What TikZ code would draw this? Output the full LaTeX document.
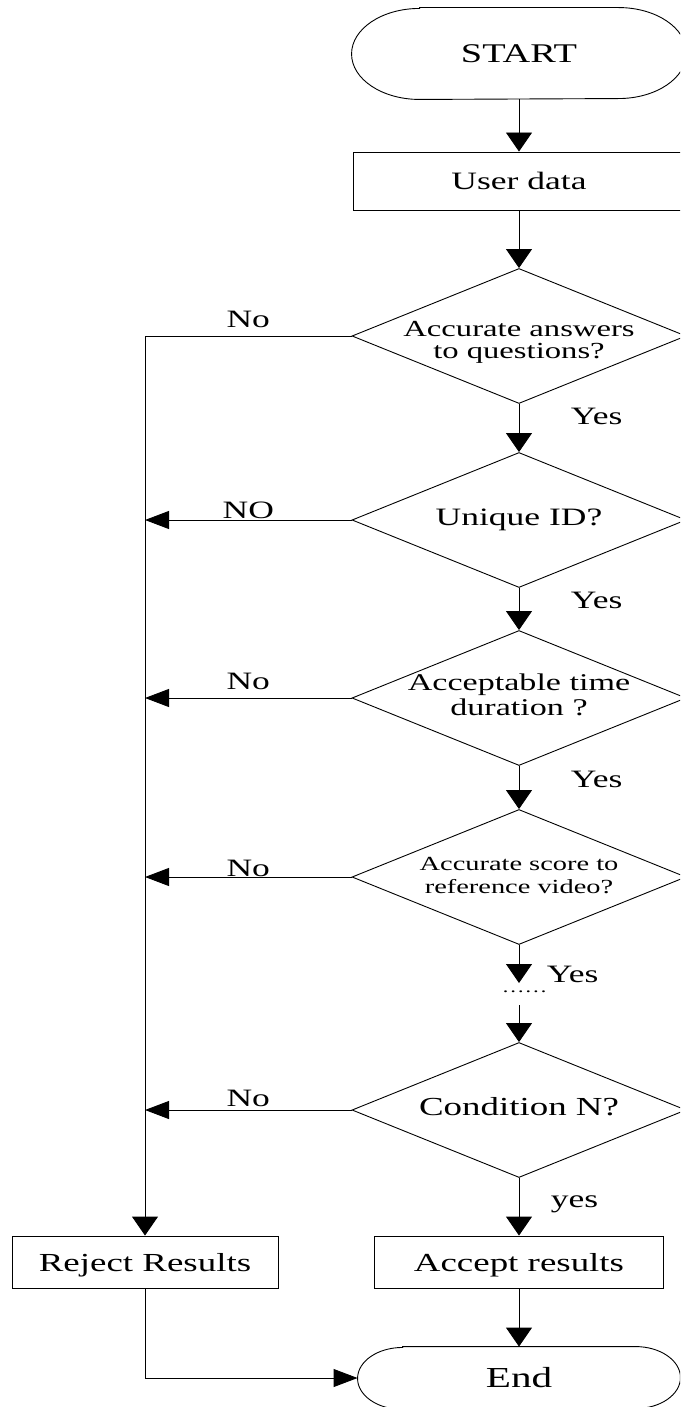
\documentclass[tikz,border=0pt]{standalone}
\usepackage{graphicx}
\usepackage{fontspec}
\setmainfont{Liberation Serif}
\usetikzlibrary{shapes.geometric,arrows.meta}

\newcommand{\wide}[1]{\scalebox{1.42}[1]{#1}}
\newcommand{\qtext}[2][0pt]{\makebox[0pt]{\wide{\begin{tabular}{@{}c@{}}#2\end{tabular}}\rule{0pt}{#1}}}

\begin{document}
\begin{tikzpicture}[x=1pt,y=-1pt,line width=0.9pt,
  box/.style={draw,rectangle,inner sep=0pt,text depth=0pt,minimum height=52pt},
  decision/.style={draw,diamond,aspect=2.5,inner sep=0pt,minimum width=334pt,minimum height=135pt},
  terminal/.style={inner sep=0pt},
  down/.style={-{Triangle[width=26pt,length=19pt]}},
  side/.style={-{Triangle[width=18pt,length=24pt]}},
  nolbl/.style={midway,anchor=base,font=\fontsize{25}{25}\selectfont},
  yeslbl/.style={midway,anchor=base west,xshift=48pt,font=\fontsize{25}{25}\selectfont}]
   \newcommand{\stadium}[3]{
        \draw ([xshift=#2]#1.north west) -- ([xshift=-#2]#1.north east)
          arc[start angle=90,end angle=-90,x radius=#2,y radius=#3]
          -- ([xshift=#2]#1.south west)
          arc[start angle=270,end angle=90,x radius=#2,y radius=#3] -- cycle;
    }
\useasboundingbox (0,0) rectangle (680,1407);
\clip (0,0) rectangle (680,1407);

\node[terminal,minimum width=334pt,minimum height=91pt,font=\fontsize{27}{27}\selectfont] (start) at (519,53.5) {\wide{START}};
\stadium{start}{68pt}{45.5pt}
\node[box,minimum width=332pt,minimum height=58pt,font=\fontsize{25}{25}\selectfont] (data) at (519,181) {\wide{User data}};

\node[decision,font=\fontsize{23}{22}\selectfont] (q1) at (519,336) {\qtext[42pt]{Accurate answers\\to questions?}};
\node[decision,font=\fontsize{25}{25}\selectfont] (q2) at (519,520) {\qtext{Unique ID?}};
\node[decision,font=\fontsize{24}{25}\selectfont] (q3) at (519,698) {\qtext{Acceptable time\\duration ?}};
\node[decision,font=\fontsize{20}{23}\selectfont] (q4) at (519,877) {\qtext{Accurate score to\\reference video?}};
\node[decision,font=\fontsize{26}{26}\selectfont] (qn) at (519,1110) {\qtext{Condition N?}};

\coordinate (gapA) at (519,983);
\coordinate (gapB) at (519,1005);
\node[anchor=base,font=\fontsize{16}{16}\selectfont] (dots) at (524.5,992) {\wide{……}};

\node[box,minimum width=266pt,font=\fontsize{26}{26}\selectfont] (reject) at (145,1262) {\wide{Reject Results}};
\node[box,minimum width=289pt,font=\fontsize{26}{26}\selectfont] (accept) at (519,1262) {\wide{Accept results}};
\node[terminal,minimum width=322pt,minimum height=62pt,font=\fontsize{29}{29}\selectfont] (end) at (519,1378) {\wide{End}};
\stadium{end}{45pt}{31pt}

\draw[down] (start) -- (data);
\draw[down] (data) -- (q1);
\draw[down] (q1) -- node[yeslbl,yshift=4pt]{\wide{Yes}} (q2);
\draw[down] (q2) -- node[yeslbl,yshift=1pt]{\wide{Yes}} (q3);
\draw[down] (q3) -- node[yeslbl]{\wide{Yes}} (q4);
\draw[down] (q4) -- node[yeslbl,pos=1,xshift=-24pt,yshift=1pt]{\wide{Yes}} (gapA);
\draw[down] (gapB) -- (qn);
\draw[down] (qn) -- node[yeslbl,xshift=-20pt,yshift=-1pt]{\wide{yes}} (accept);
\draw[down] (accept) -- (end);

\draw[down] (q1.west) -- node[nolbl,yshift=9pt]{\wide{No}} (reject.north |- q1.west) -- (reject.north);
\draw[side] (q2.west) -- node[nolbl,yshift=2pt]{\wide{NO}} (reject.north |- q2.west);
\draw[side] (q3.west) -- node[nolbl,yshift=9pt]{\wide{No}} (reject.north |- q3.west);
\draw[side] (q4.west) -- node[nolbl,yshift=1pt]{\wide{No}} (reject.north |- q4.west);
\draw[side] (qn.west) -- node[nolbl,yshift=4pt]{\wide{No}} (reject.north |- qn.west);
\draw[side] (reject.south) |- (end.west);
\end{tikzpicture}
\end{document}
